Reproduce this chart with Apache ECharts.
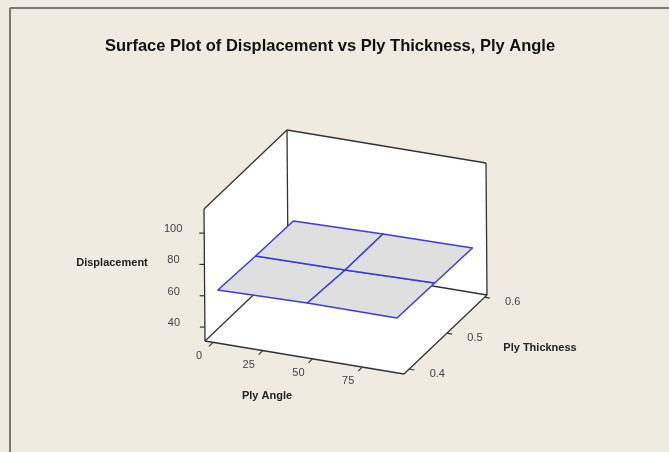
<!DOCTYPE html>
<html>
<head>
    <meta charset="utf-8" />
    <title>Surface Plot</title>
    <script src="https://cdn.jsdelivr.net/npm/echarts@6/dist/echarts.min.js"></script>
    <style>html, body { margin: 0; padding: 0; background: #efebe1; }</style>
</head>
<body>
    <div id="main" style="width: 669px;height:452px;"></div>
    <script type="text/javascript">
        // grid of the surface
        let plyAngle = [0, 45, 90];
        let plyThickness = [0.4, 0.5, 0.6];
        // displacement, one row per thickness (0.4, 0.5, 0.6), across ply angle
        let dispT04 = [61.3, 62.5, 62.4];
        let dispT05 = [60.1, 60.6, 61.8];
        let dispT06 = [59.5, 60.7, 61.2];

        let angleTicks = [0, 25, 50, 75];
        let thickTicks = [0.4, 0.5, 0.6];
        let dispTicks = [40, 60, 80, 100];

        // axis ranges of the box
        let angleRange = [-4, 96];
        let thickRange = [0.386, 0.606];
        let dispRange = [31.1, 115.4];

        // how the box sits on the page
        let origin = [205, 341];
        let angleVec = [199, 33];
        let thickVec = [83, -79];
        let dispVec = [-1, -132];

        function proj(a, t, z) {
            let u = (a - angleRange[0]) / (angleRange[1] - angleRange[0]);
            let v = (t - thickRange[0]) / (thickRange[1] - thickRange[0]);
            let w = (z - dispRange[0]) / (dispRange[1] - dispRange[0]);
            return [
                origin[0] + u * angleVec[0] + v * thickVec[0] + w * dispVec[0],
                origin[1] + u * angleVec[1] + v * thickVec[1] + w * dispVec[1]
            ];
        }

        let dispRows = [dispT04, dispT05, dispT06];
        let a0 = angleRange[0], a1 = angleRange[1];
        let t0 = thickRange[0], t1 = thickRange[1];
        let z0 = dispRange[0], z1 = dispRange[1];

        let walls = [
            [[a0, t0, z0], [a1, t0, z0], [a1, t1, z0], [a0, t1, z0]],
            [[a0, t0, z0], [a0, t1, z0], [a0, t1, z1], [a0, t0, z1]],
            [[a0, t1, z0], [a1, t1, z0], [a1, t1, z1], [a0, t1, z1]]
        ];
        let edges = [
            [[a0, t0, z0], [a1, t0, z0]],
            [[a1, t0, z0], [a1, t1, z0]],
            [[a1, t1, z0], [a0, t1, z0]],
            [[a0, t1, z0], [a0, t0, z0]],
            [[a0, t0, z0], [a0, t0, z1]],
            [[a0, t0, z1], [a0, t1, z1]],
            [[a0, t1, z1], [a0, t1, z0]],
            [[a0, t1, z1], [a1, t1, z1]],
            [[a1, t1, z1], [a1, t1, z0]]
        ];

        let cells = [];
        for (let j = 0; j < plyThickness.length - 1; j++) {
            for (let i = 0; i < plyAngle.length - 1; i++) {
                cells.push([
                    [plyAngle[i], plyThickness[j], dispRows[j][i]],
                    [plyAngle[i + 1], plyThickness[j], dispRows[j][i + 1]],
                    [plyAngle[i + 1], plyThickness[j + 1], dispRows[j + 1][i + 1]],
                    [plyAngle[i], plyThickness[j + 1], dispRows[j + 1][i]]
                ]);
            }
        }

        let tickFont = '11px "Liberation Sans", Arial, sans-serif';
        let nameFont = 'bold 11px "Liberation Sans", Arial, sans-serif';

        function polySeries(list, style) {
            return {
                type: 'custom',
                coordinateSystem: 'cartesian2d',
                clip: false,
                silent: true,
                data: list.map((p, i) => [i]),
                renderItem: function (params, api) {
                    let pts = list[params.dataIndex].map(p => api.coord(proj(p[0], p[1], p[2])));
                    return { type: 'polygon', shape: { points: pts }, style: style };
                }
            };
        }

        function tickSeries(ticks, toPoint, dir, labelOff, fmt) {
            return {
                type: 'custom',
                coordinateSystem: 'cartesian2d',
                clip: false,
                silent: true,
                data: ticks.map(v => [v]),
                renderItem: function (params, api) {
                    let v = ticks[params.dataIndex];
                    let p = api.coord(toPoint(v));
                    return {
                        type: 'group',
                        children: [{
                            type: 'line',
                            shape: { x1: p[0], y1: p[1], x2: p[0] + dir[0], y2: p[1] + dir[1] },
                            style: { stroke: '#333', lineWidth: 1.2 }
                        }, {
                            type: 'text',
                            style: {
                                x: p[0] + labelOff[0], y: p[1] + labelOff[1],
                                text: fmt(v), align: 'center', verticalAlign: 'middle',
                                fill: '#444', font: tickFont
                            }
                        }]
                    };
                }
            };
        }

        let myChart = echarts.init(document.getElementById('main'));
        let option = {
            backgroundColor: '#efebe1',
            animation: false,
            title: {
                text: 'Surface Plot of Displacement vs Ply Thickness, Ply Angle',
                left: 325,
                textAlign: 'center',
                top: 33,
                textStyle: { fontFamily: '"Liberation Sans", Arial, sans-serif', fontWeight: 'bold', fontSize: 16.5, color: '#111' }
            },
            grid: { left: 0, right: 0, top: 0, bottom: 0 },
            xAxis: { type: 'value', min: 0, max: 669, show: false },
            yAxis: { type: 'value', min: 0, max: 452, inverse: true, show: false },
            graphic: [
                { type: 'line', shape: { x1: 10, y1: 8, x2: 10, y2: 452 }, style: { stroke: '#7a7a72', lineWidth: 2 } },
                { type: 'line', shape: { x1: 10, y1: 8, x2: 669, y2: 8 }, style: { stroke: '#7a7a72', lineWidth: 2 } },
                { type: 'text', x: 112, y: 263, style: { text: 'Displacement', align: 'center', verticalAlign: 'middle', font: nameFont, fill: '#222' } },
                { type: 'text', x: 267, y: 396, style: { text: 'Ply Angle', align: 'center', verticalAlign: 'middle', font: nameFont, fill: '#222' } },
                { type: 'text', x: 540, y: 348, style: { text: 'Ply Thickness', align: 'center', verticalAlign: 'middle', font: nameFont, fill: '#222' } }
            ],
            series: [
                polySeries(walls, { fill: '#ffffff', stroke: null }),
                {
                    type: 'custom',
                    coordinateSystem: 'cartesian2d',
                    clip: false,
                    silent: true,
                    data: edges.map((e, i) => [i]),
                    renderItem: function (params, api) {
                        let e = edges[params.dataIndex];
                        let p = api.coord(proj(e[0][0], e[0][1], e[0][2]));
                        let q = api.coord(proj(e[1][0], e[1][1], e[1][2]));
                        return {
                            type: 'line',
                            shape: { x1: p[0], y1: p[1], x2: q[0], y2: q[1] },
                            style: { stroke: '#333', lineWidth: 1.3 }
                        };
                    }
                },
                polySeries(cells, { fill: '#dfdfdf', stroke: '#3a3ae6', lineWidth: 1.5, lineJoin: 'round' }),
                tickSeries(dispTicks, v => proj(a0, t0, v), [-5, 0], [-31, -4], v => String(v)),
                tickSeries(angleTicks, v => proj(v, t0, z0), [-4, 4], [-14, 14], v => String(v)),
                tickSeries(thickTicks, v => proj(a1, v, z0), [5, 1], [28, 5], v => v.toFixed(1))
            ]
        };
        myChart.setOption(option);
    </script>
</body>
</html>
